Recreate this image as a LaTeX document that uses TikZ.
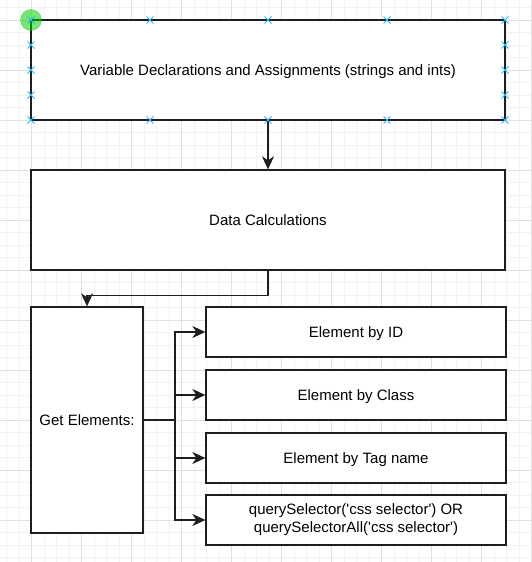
\documentclass[tikz,border=0pt]{standalone}
\usepackage{fontspec}
\setmainfont{Liberation Sans}
\usetikzlibrary{arrows.meta}
\definecolor{gridminor}{RGB}{242,242,242}
\definecolor{gridmajor}{RGB}{224,224,224}
\definecolor{outline}{RGB}{30,30,30}
\definecolor{handle}{RGB}{41,182,242}
\definecolor{selgreen}{RGB}{0,210,0}
\tikzset{
  box/.style={draw=outline, line width=1.3pt, fill=white, inner sep=2pt,
    font=\fontsize{15}{18}\selectfont, align=center, text depth=0pt, text height=11pt},
  arr/.style={draw=outline, line width=1.3pt, -{Stealth[length=13pt,width=12pt,inset=4pt]}},
  conn/.style={draw=outline, line width=1.3pt},
  hmark/.style={draw=handle, line width=1pt},
}
\begin{document}
\begin{tikzpicture}[x=1pt,y=-1pt]
\useasboundingbox (0,0) rectangle (532,562);
\fill[white] (0,0) rectangle (532,562);
% grid
\foreach \i in {0,...,41} {
  \draw[gridminor, line width=0.8pt] ({6.7+12.5*\i},0) -- ({6.7+12.5*\i},562);
}
\foreach \i in {0,...,44} {
  \draw[gridminor, line width=0.8pt] (0,{7.5+12.5*\i}) -- (532,{7.5+12.5*\i});
}
\foreach \i in {0,...,10} {
  \draw[gridmajor, line width=0.9pt] ({31.7+50*\i},0) -- ({31.7+50*\i},562);
}
\foreach \i in {0,...,11} {
  \draw[gridmajor, line width=0.9pt] (0,{20+50*\i}) -- (532,{20+50*\i});
}
% nodes
\node[box, minimum width=474pt, minimum height=100pt] (v) at (268,70) {Variable Declarations and Assignments (strings and ints)};
\node[box, minimum width=474pt, minimum height=100pt] (d) at (268,220) {Data Calculations};
\node[box, minimum width=112pt, minimum height=226pt] (g) at (87,420) {Get Elements:};
\node[box, minimum width=300pt, minimum height=50pt] (a) at (356,332) {Element by ID};
\node[box, minimum width=300pt, minimum height=50pt] (b) at (356,395) {Element by Class};
\node[box, minimum width=300pt, minimum height=50pt] (c) at (356,458) {Element by Tag name};
\node[box, minimum width=300pt, minimum height=50pt, text height=, text depth=] (q) at (356,520) {query\-Selector(\textquotesingle css selector\textquotesingle) OR\\query\-SelectorAll(\textquotesingle css selector\textquotesingle)};
% connectors
\draw[arr] (v.south) -- (d.north);
\draw[arr] (d.south) -- ++(0,25) -| (g.north);
\coordinate (j) at (175,420);
\draw[conn] (g.east) -- (j);
\draw[arr] (j) |- (a.west);
\draw[arr] (j) |- (b.west);
\draw[arr] (j) |- (c.west);
\draw[arr] (j) |- (q.west);
% selection handles
\fill[selgreen, opacity=0.55] (31,20) circle (10.5pt);
\draw[selgreen!80!black, opacity=0.35, line width=0.6pt] (31,20) circle (10.5pt);
\foreach \p in {(31,20),(150,20),(268,20),(387,20),(505,20),(31,120),(150,120),(268,120),(387,120),(505,120),(31,45),(31,70),(31,95),(505,45),(505,70),(505,95)} {
  \draw[hmark] \p ++(-3.5,-3.5) -- ++(7,7);
  \draw[hmark] \p ++(-3.5,3.5) -- ++(7,-7);
}
\end{tikzpicture}
\end{document}
